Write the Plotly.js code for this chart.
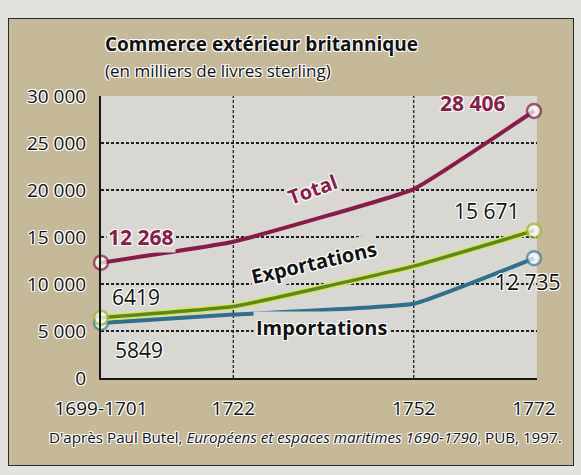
<!DOCTYPE html>
<html>
<head>
<meta charset="utf-8">
<script src="https://cdn.plot.ly/plotly-3.0.1.min.js"></script>
<style>
  html, body { margin: 0; padding: 0; width: 581px; height: 475px; overflow: hidden; background: #e2e2df; }
  #frame { position: absolute; left: 8px; top: 18px; width: 566px; height: 448px; background: #c6b997; border: 1.5px solid #2a2a2a; box-sizing: border-box; }
  #chart { position: absolute; left: 0; top: 0; width: 581px; height: 475px; }
</style>
</head>
<body>
<div id="frame"></div>
<div id="chart"></div>
<script>
// ---- data ----
const years = [1700, 1722, 1752, 1772];
const yearLabels = ['1699-1701', '1722', '1752', '1772'];
const totalValues = [12268, 14500, 20100, 28406];
const exportValues = [6419, 7600, 11900, 15671];
const importValues = [5849, 6750, 7900, 12735];
const yTickVals = [0, 5000, 10000, 15000, 20000, 25000, 30000];
const yTickText = ['0', '5 000', '10 000', '15 000', '20 000', '25 000', '30 000'];
const seriesNames = ['Total', 'Exportations', 'Importations'];
const titleText = 'Commerce extérieur britannique';
const subtitleText = '(en milliers de livres sterling)';
const sourceText = "D'après Paul Butel, <i>Européens et espaces maritimes 1690-1790</i>, PUB, 1997.";

// ---- helpers ----
const W = 581, H = 475;
const M = { l: 101, r: 44, t: 96, b: 97, pad: 0 };
const pw = W - M.l - M.r, ph = H - M.t - M.b;
const paperX = px => (px - M.l) / pw;
const paperY = py => (H - M.b - py) / ph;
const fmt = v => v >= 10000 ? String(v).replace(/\B(?=(\d{3})+(?!\d))/g, ' ') : String(v);
const FONT = '"Open Sans", "Noto Sans", "DejaVu Sans", sans-serif';
const halo = '1px 1px 0 #fff, -1px -1px 0 #fff, 1px -1px 0 #fff, -1px 1px 0 #fff, 0 0 2px #fff';
const last = years.length - 1;
// markers only at the two ends, as in the original
const endMarkerSize = years.map((_, i) => (i === 0 || i === last) ? 14 : 0);

const cTotal = '#8a1a48', cExp = '#5a8a1c', cExpHi = '#dde45a', cImp = '#2c6f8e';
const plotBg = '#d8d7d2';
const SMOOTH = 0.3;

const traces = [
  { x: years, y: importValues, name: seriesNames[2], mode: 'lines+markers', cliponaxis: false,
    line: { color: cImp, width: 4, shape: 'spline', smoothing: SMOOTH },
    marker: { size: endMarkerSize, color: '#fff', line: { color: '#3c809f', width: 2.5 } } },
  { x: years, y: exportValues, mode: 'lines', showlegend: false, hoverinfo: 'skip', cliponaxis: false,
    line: { color: cExpHi, width: 6.5, shape: 'spline', smoothing: SMOOTH } },
  { x: years, y: exportValues, name: seriesNames[1], mode: 'lines+markers', cliponaxis: false,
    line: { color: cExp, width: 3.5, shape: 'spline', smoothing: SMOOTH },
    marker: { size: endMarkerSize, color: '#fff', line: { color: '#a2b92e', width: 2.5 } } },
  { x: years, y: totalValues, name: seriesNames[0], mode: 'lines+markers', cliponaxis: false,
    line: { color: cTotal, width: 4, shape: 'spline', smoothing: SMOOTH },
    marker: { size: endMarkerSize, color: '#fff', line: { color: cTotal, width: 2.5 } } }
];

const gridLine = { color: '#1e1e1e', width: 1.3, dash: '3px,2px' };
const shapes = years.slice(1, last).map(yr => ({
  type: 'line', xref: 'x', yref: 'paper', x0: yr, x1: yr, y0: 0, y1: 1, layer: 'below', line: gridLine
}));

const valFont = (size, color, bold) => ({ family: FONT, size: size, color: color, weight: bold ? 700 : 400, shadow: halo });

const annotations = [
  { xref: 'paper', yref: 'paper', x: paperX(103), y: paperY(44), xanchor: 'left', yanchor: 'middle', showarrow: false,
    text: '<b>' + titleText + '</b>', font: { family: FONT, size: 19, color: '#111', shadow: halo } },
  { xref: 'paper', yref: 'paper', x: paperX(103), y: paperY(70), xanchor: 'left', yanchor: 'middle', showarrow: false,
    text: subtitleText, font: { family: FONT, size: 17, color: '#111', shadow: halo } },
  { xref: 'paper', yref: 'paper', x: paperX(305), y: paperY(437), xanchor: 'center', yanchor: 'middle', showarrow: false,
    text: sourceText, font: { family: FONT, size: 15.2, color: '#111', shadow: halo } },
  // value labels
  { x: years[0], y: totalValues[0], xshift: 40, yshift: 26, showarrow: false, text: fmt(totalValues[0]),
    font: valFont(21, cTotal, true), bgcolor: plotBg, borderpad: 1 },
  { x: years[last], y: totalValues[last], xshift: -61, yshift: 8, showarrow: false, text: fmt(totalValues[last]),
    font: valFont(21, cTotal, true) },
  { x: years[0], y: exportValues[0], xshift: 35, yshift: 21, showarrow: false, text: fmt(exportValues[0]),
    font: valFont(21, '#111', false) },
  { x: years[0], y: importValues[0], xshift: 38, yshift: -27, showarrow: false, text: fmt(importValues[0]),
    font: valFont(21, '#111', false) },
  { x: years[last], y: exportValues[last], xshift: -47, yshift: 20, showarrow: false, text: fmt(exportValues[last]),
    font: valFont(21, '#111', false) },
  { x: years[last], y: importValues[last], xshift: -6, yshift: -24, showarrow: false, text: fmt(importValues[last]),
    font: valFont(21, '#111', false) },
  // series labels
  { x: 1735.1, y: 20100, showarrow: false, text: seriesNames[0], textangle: -20,
    font: valFont(20, cTotal, true), bgcolor: plotBg, borderpad: 1 },
  { x: 1735.5, y: 12250, showarrow: false, text: seriesNames[1], textangle: -13,
    font: valFont(20, '#111', true), bgcolor: plotBg, borderpad: 1 },
  { x: 1736.6, y: 5350, showarrow: false, text: seriesNames[2], textangle: 0,
    font: valFont(20, '#111', true), bgcolor: plotBg, borderpad: 2 }
];

const layout = {
  width: W, height: H, margin: M,
  paper_bgcolor: 'rgba(0,0,0,0)', plot_bgcolor: plotBg,
  showlegend: false,
  font: { family: FONT, color: '#111' },
  xaxis: {
    range: [1700, 1772.5], tickvals: years, ticktext: yearLabels, showgrid: false, zeroline: false,
    showline: true, linecolor: '#141414', linewidth: 2, ticks: '', ticklabelstandoff: 12,
    tickfont: { family: FONT, size: 19, color: '#111', shadow: halo }
  },
  yaxis: {
    range: [0, 30000], tickvals: yTickVals, ticktext: yTickText, showgrid: true,
    gridcolor: gridLine.color, gridwidth: gridLine.width, griddash: gridLine.dash, zeroline: false,
    showline: true, linecolor: '#141414', linewidth: 2, ticks: '', ticklabelstandoff: 9,
    tickfont: { family: FONT, size: 19, color: '#111', shadow: halo }
  },
  shapes: shapes,
  annotations: annotations
};

Plotly.newPlot('chart', traces, layout, { staticPlot: true, displayModeBar: false });
</script>
</body>
</html>
